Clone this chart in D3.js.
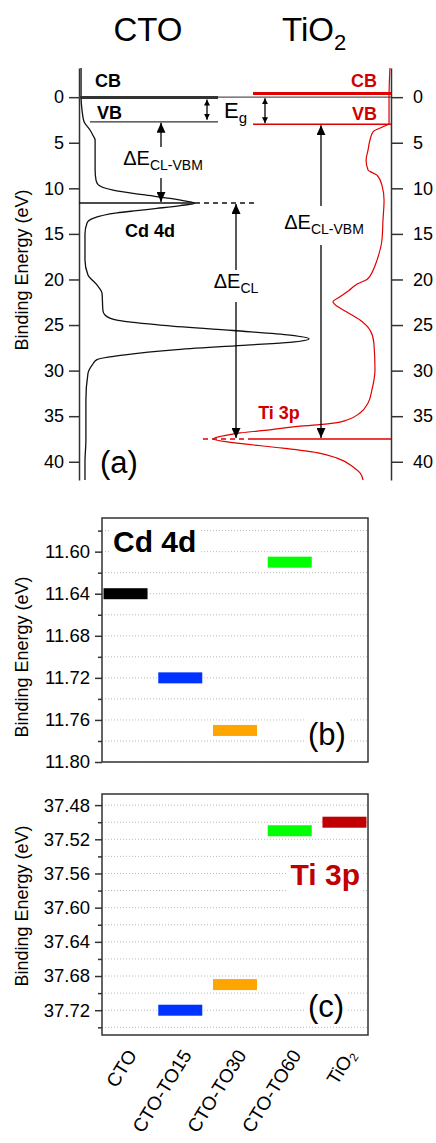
<!DOCTYPE html>
<html>
<head>
<meta charset="utf-8">
<script src="https://cdn.jsdelivr.net/npm/d3@7"></script>
<style>
  body { margin: 0; background: #fff; }
  text { font-family: Arial, "Liberation Sans", sans-serif; }
</style>
</head>
<body>
<div id="chart"></div>
<script>
const width = 436;
const height = 1143;

// spectra in panel (a): [binding energy (eV), intensity (a.u., peak = 100)]
const ctoSpectrum = [
  [-3.2, 0.9], [0, 0.9], [1.4, 1.3], [2.7, 2.2], [3.6, 4.8], [4.2, 6.1], [4.7, 7.0],
  [8.0, 7.0], [9.1, 7.4], [9.6, 8.3], [10.2, 14.8], [10.7, 27.8], [11.1, 39.6],
  [11.4, 46.5], [11.65, 50.4], [11.9, 44.0], [12.2, 33.9], [12.45, 25.0], [12.7, 16.5],
  [13.3, 6.1], [13.8, 3.5], [15.0, 2.6], [17.9, 2.6], [19.5, 3.9], [20.6, 7.8],
  [21.5, 10.0], [23.4, 10.4], [23.9, 11.3], [24.5, 17.0], [25.0, 35.2], [25.6, 67],
  [26.1, 91.7], [26.5, 100], [26.9, 91.7], [27.2, 73], [27.7, 42.6], [28.3, 19.1],
  [28.8, 7.8], [29.4, 5.7], [30.3, 3.9], [33.2, 3.0], [37.6, 3.0], [40, 2.6], [42, 2.6]
];
const tio2Spectrum = [
  [-3.2, 0.6], [0, 1.1], [2.9, 1.1], [3.25, 4.5], [3.8, 10.1], [4.7, 11.8], [5.8, 12.9],
  [6.9, 14.0], [8.0, 12.9], [8.55, 7.9], [9.65, 5.1], [11.3, 3.9], [13.5, 4.5],
  [15.7, 5.1], [17.9, 7.9], [19.0, 10.1], [20.0, 13.5], [20.5, 19.0], [21.2, 23.6],
  [21.9, 28.7], [22.45, 32.6], [23.0, 29.8], [23.4, 26.4], [24.45, 17.4], [25.55, 11.8],
  [27.0, 9.6], [29.9, 9.0], [32.1, 10.7], [33.55, 12.9], [34.65, 17.4], [35.42, 24.7],
  [35.7, 30.3], [35.96, 41.6], [36.1, 51], [36.5, 68], [36.84, 84.8], [37.0, 90],
  [37.5, 100], [37.9, 88.8], [38.5, 60.7], [39.0, 41.6], [39.6, 30.3], [40.57, 21.3],
  [41.23, 17.4], [42, 15.7]
];

// band edges and core levels (eV): [CB, VB, core level]
const ctoLevels = [0.05, 2.7, 11.6];
const tio2Levels = [-0.4, 2.96, 37.5];
const energyTicks = [0, 5, 10, 15, 20, 25, 30, 35, 40];

// panels (b) and (c)
const categories = ["CTO", "CTO-TO15", "CTO-TO30", "CTO-TO60", "TiO2"];
const cd4dValues = [11.64, 11.72, 11.77, 11.61, null];
const ti3pValues = [null, 37.72, 37.69, 37.51, 37.50];
const barColors = ["#000000", "#0033ff", "#ffa500", "#00ff00", "#c00000"];
const cd4dTicks = [11.60, 11.64, 11.68, 11.72, 11.76, 11.80];
const cd4dMinor = [11.58, 11.62, 11.66, 11.70, 11.74, 11.78];
const ti3pTicks = [37.48, 37.52, 37.56, 37.60, 37.64, 37.68, 37.72];
const ti3pMinor = [37.50, 37.54, 37.58, 37.62, 37.66, 37.70, 37.74];

const svg = d3.select("#chart")
  .append("svg")
  .attr("width", width)
  .attr("height", height)
  .style("background", "#fff");

// arrow heads
const defs = svg.append("defs");
function marker(id, len, wid) {
  defs.append("marker")
    .attr("id", id)
    .attr("viewBox", `0 0 ${len} ${wid}`)
    .attr("refX", len)
    .attr("refY", wid / 2)
    .attr("markerUnits", "userSpaceOnUse")
    .attr("markerWidth", len)
    .attr("markerHeight", wid)
    .attr("orient", "auto-start-reverse")
    .append("path")
    .attr("d", `M0,0L${len},${wid / 2}L0,${wid}Z`)
    .attr("fill", "#000");
}
marker("head", 10, 9);
marker("small", 6, 6);

function styleAxis(g, size) {
  g.attr("font-family", "Arial, 'Liberation Sans', sans-serif")
    .attr("font-size", size);
  g.selectAll("path, line").attr("stroke", "#333").attr("stroke-width", 1.5);
  g.selectAll("text").attr("fill", "#000");
}

function yLabel(cy) {
  svg.append("text")
    .attr("transform", `translate(28,${cy}) rotate(-90)`)
    .attr("text-anchor", "middle")
    .attr("font-size", 18)
    .text("Binding Energy (eV)");
}

// ---------------- (a) ----------------
const yA = d3.scaleLinear().domain([-3.2, 42]).range([68, 480]);
const xCto = d3.scaleLinear().domain([0, 100]).range([79, 309]);
const xTio = d3.scaleLinear().domain([0, 100]).range([391, 213]);

svg.append("text").attr("x", 148).attr("y", 41).attr("text-anchor", "middle")
  .attr("font-size", 33).text("CTO");
const tiTitle = svg.append("text").attr("x", 282).attr("y", 41).attr("font-size", 33);
tiTitle.append("tspan").text("TiO");
tiTitle.append("tspan").attr("font-size", 22).attr("dy", 9).text("2");

svg.append("g")
  .attr("transform", "translate(79,0)")
  .call(d3.axisLeft(yA).tickValues(energyTicks).tickSize(10).tickSizeOuter(0).tickPadding(5))
  .call(g => styleAxis(g, 18));
svg.append("g")
  .attr("transform", "translate(391,0)")
  .call(d3.axisRight(yA).tickValues(energyTicks).tickSize(12).tickSizeOuter(0).tickPadding(10))
  .call(g => styleAxis(g, 18));
yLabel(270);

// zero reference
svg.append("line")
  .attr("x1", 79).attr("x2", 391)
  .attr("y1", yA(0)).attr("y2", yA(0))
  .attr("stroke", "#555").attr("stroke-width", 1.3);

const ctoLine = d3.line().x(d => xCto(d[1])).y(d => yA(d[0])).curve(d3.curveMonotoneY);
const tioLine = d3.line().x(d => xTio(d[1])).y(d => yA(d[0])).curve(d3.curveMonotoneY);

svg.append("path").datum(ctoSpectrum)
  .attr("d", ctoLine).attr("fill", "none")
  .attr("stroke", "#111").attr("stroke-width", 1.3);
svg.append("path").datum(tio2Spectrum)
  .attr("d", tioLine).attr("fill", "none")
  .attr("stroke", "#e00000").attr("stroke-width", 1.2);

function hline(x1, x2, e, color, w, dash) {
  svg.append("line")
    .attr("x1", x1).attr("x2", x2)
    .attr("y1", yA(e)).attr("y2", yA(e))
    .attr("stroke", color).attr("stroke-width", w)
    .attr("stroke-dasharray", dash || null);
}
function arrow(x, y1, y2, id, both) {
  svg.append("line")
    .attr("x1", x).attr("x2", x).attr("y1", y1).attr("y2", y2)
    .attr("stroke", "#000").attr("stroke-width", 1.3)
    .attr("marker-end", `url(#${id})`)
    .attr("marker-start", both ? `url(#${id})` : null);
}

// CTO levels
hline(80, 218, ctoLevels[0], "#333", 3);
hline(90, 218, ctoLevels[1], "#333", 1.3);
hline(79, 195, ctoLevels[2], "#111", 1.5);
hline(195, 257, ctoLevels[2], "#111", 1.5, "5,4");
// TiO2 levels
hline(253, 391, tio2Levels[0], "#e00000", 3);
hline(253, 391, tio2Levels[1], "#e00000", 1.5);
hline(253, 391, tio2Levels[2], "#e00000", 1.5);
hline(203, 253, tio2Levels[2], "#e00000", 1.5, "5,4");

// band gaps
arrow(207, yA(ctoLevels[0]) + 2, yA(ctoLevels[1]) - 2, "small", true);
arrow(265, yA(0) + 1, yA(tio2Levels[1]) - 1, "small", true);
const eg = svg.append("text").attr("x", 224).attr("y", 118).attr("font-size", 22);
eg.append("tspan").text("E");
eg.append("tspan").attr("font-size", 15).attr("dy", 5).text("g");

// labels
function label(x, y, txt, color, size, anchor, bold) {
  return svg.append("text").attr("x", x).attr("y", y)
    .attr("fill", color).attr("font-size", size)
    .attr("font-weight", bold ? "bold" : null)
    .attr("text-anchor", anchor || "start").text(txt);
}
label(95, 87, "CB", "#000", 18, "start", true);
label(97, 119, "VB", "#000", 18, "start", true);
label(377, 87, "CB", "#d00000", 18, "end", true);
label(377, 120, "VB", "#d00000", 18, "end", true);
label(150, 237, "Cd 4d", "#000", 18, "middle", true);
label(279, 419, "Ti 3p", "#d00000", 18, "middle", true);
label(100, 473, "(a)", "#000", 31);

function delta(x, y, sub) {
  const t = svg.append("text").attr("x", x).attr("y", y)
    .attr("text-anchor", "middle").attr("font-size", 20);
  t.append("tspan").text("\u0394E");
  t.append("tspan").attr("font-size", 14).attr("dy", 5).text(sub);
}
// CTO: CL - VBM
arrow(161, 147, yA(ctoLevels[1]) + 1, "head");
delta(163, 165, "CL-VBM");
arrow(161, 178, yA(ctoLevels[2]) - 1, "head");
// core level difference
arrow(236, 270, yA(ctoLevels[2]) + 1, "head");
delta(236, 288, "CL");
arrow(236, 302, yA(tio2Levels[2]) - 1, "head");
// TiO2: CL - VBM
arrow(321, 206, yA(tio2Levels[1]) + 1, "head");
delta(324, 229, "CL-VBM");
arrow(321, 245, yA(tio2Levels[2]) - 1, "head");

// ---------------- (b) and (c) ----------------
const xCat = d3.scalePoint().domain(categories).range([102, 368]).padding(0.43);

function barPanel(top, bottom, domain, values, ticks, minor, title, titleColor, titleX, titleAnchor, titleY, tag, tagY, labelY) {
  const y = d3.scaleLinear().domain(domain).range([top, bottom]);
  const g = svg.append("g");

  g.selectAll("line.grid")
    .data(ticks.concat(minor))
    .enter().append("line")
    .attr("class", "grid")
    .attr("x1", 102).attr("x2", 368)
    .attr("y1", d => y(d)).attr("y2", d => y(d))
    .attr("stroke", "#bbb").attr("stroke-width", 1)
    .attr("stroke-dasharray", "1,2");

  function boxedText(x, yy, txt, color, size, anchor, bold) {
    const t = g.append("text").attr("x", x).attr("y", yy)
      .attr("fill", color).attr("font-size", size)
      .attr("font-weight", bold ? "bold" : null)
      .attr("text-anchor", anchor).text(txt);
    const b = t.node().getBBox();
    g.insert("rect", "text")
      .attr("x", b.x - 3).attr("y", b.y).attr("width", b.width + 6).attr("height", b.height)
      .attr("fill", "#fff");
  }
  boxedText(titleX, titleY, title, titleColor, 30, titleAnchor, true);
  boxedText(308, tagY, tag, "#000", 31, "start", false);

  g.selectAll("rect.bar")
    .data(categories.map((c, i) => ({ c, v: values[i], color: barColors[i] })).filter(d => d.v !== null))
    .enter().append("rect")
    .attr("class", "bar")
    .attr("x", d => xCat(d.c) - 22)
    .attr("width", 44)
    .attr("y", d => y(d.v) - 5.5)
    .attr("height", 11)
    .attr("fill", d => d.color);

  g.append("g")
    .attr("transform", "translate(102,0)")
    .call(d3.axisLeft(y).tickValues(minor).tickSize(4).tickFormat(""))
    .call(a => styleAxis(a, 18.5))
    .select(".domain").remove();
  g.append("g")
    .attr("transform", "translate(102,0)")
    .call(d3.axisLeft(y).tickValues(ticks).tickSize(7).tickSizeOuter(0).tickPadding(5).tickFormat(d3.format(".2f")))
    .call(a => styleAxis(a, 18.5))
    .select(".domain").remove();

  g.append("rect")
    .attr("x", 102).attr("y", top)
    .attr("width", 266).attr("height", bottom - top)
    .attr("fill", "none").attr("stroke", "#333").attr("stroke-width", 1.5);

  yLabel(labelY);
  return y;
}

barPanel(518, 762, [11.568, 11.80], cd4dValues, cd4dTicks, cd4dMinor,
  "Cd 4d", "#000", 113, "start", 552, "(b)", 745, 657);
barPanel(794, 1035, [37.467, 37.749], ti3pValues, ti3pTicks, ti3pMinor,
  "Ti 3p", "#c00000", 360, "end", 885, "(c)", 1017, 906);

// category labels
categories.forEach(c => {
  const t = svg.append("text")
    .attr("transform", `translate(${xCat(c) + 12},1055) rotate(-58)`)
    .attr("text-anchor", "end")
    .attr("font-size", 19);
  if (c === "TiO2") {
    t.append("tspan").text("TiO");
    t.append("tspan").attr("font-size", 12).attr("dy", 3).text("2");
  } else {
    t.text(c);
  }
});
</script>
</body>
</html>
